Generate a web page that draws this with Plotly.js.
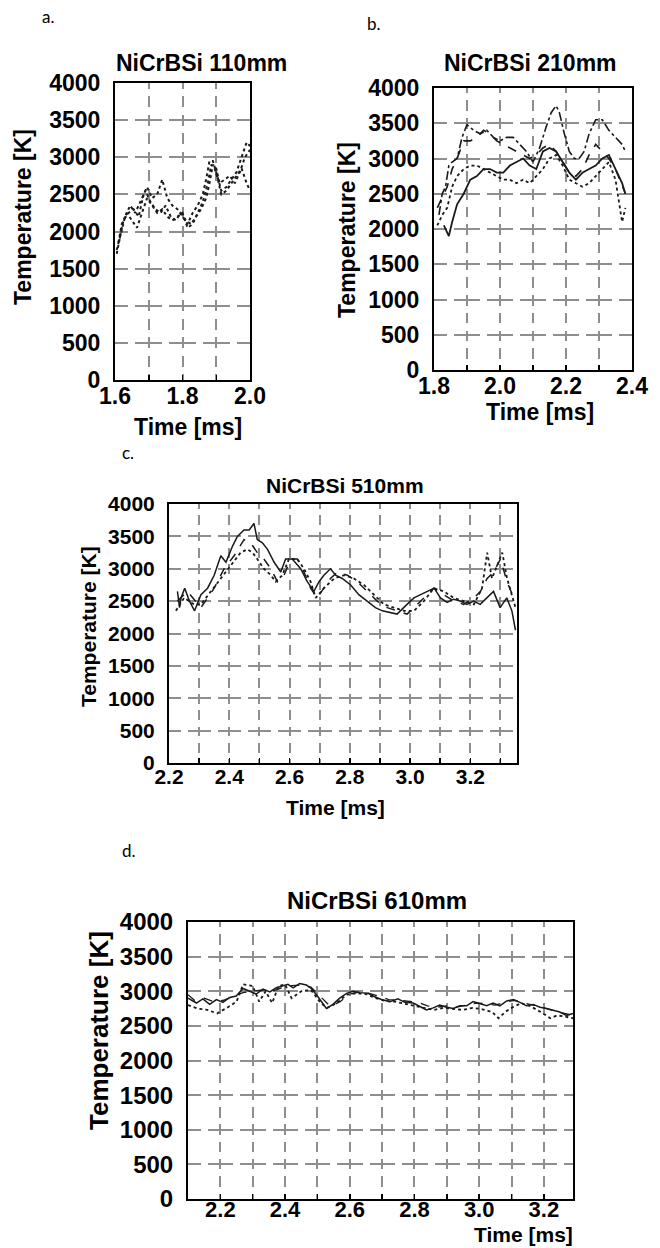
<!DOCTYPE html>
<html><head><meta charset="utf-8">
<script src="https://cdn.plot.ly/plotly-3.0.1.min.js"></script>
<style>html,body{margin:0;padding:0;background:#fff}#chart{width:660px;height:1248px}</style>
</head><body><div id="chart"></div>
<script>
// ---------------- DATA ----------------
const panelLetters = ['a.', 'b.', 'c.', 'd.'];
const panelTitles = ['NiCrBSi 110mm', 'NiCrBSi 210mm', 'NiCrBSi 510mm', 'NiCrBSi 610mm'];
const xTitle = 'Time [ms]';
const yTitle = 'Temperature [K]';

const yTickVals = [0, 500, 1000, 1500, 2000, 2500, 3000, 3500, 4000];
const yTickText = ['0', '500', '1000', '1500', '2000', '2500', '3000', '3500', '4000'];

const aTickVals = [1.6, 1.7, 1.8, 1.9, 2.0];
const aTickText = ['1.6', '', '1.8', '', '2.0'];
const bTickVals = [1.8, 1.9, 2.0, 2.1, 2.2, 2.3, 2.4];
const bTickText = ['1.8', '', '2.0', '', '2.2', '', '2.4'];
const cTickVals = [2.2, 2.3, 2.4, 2.5, 2.6, 2.7, 2.8, 2.9, 3.0, 3.1, 3.2, 3.3];
const cTickText = ['2.2', '', '2.4', '', '2.6', '', '2.8', '', '3.0', '', '3.2', ''];
const dTickVals = [2.1, 2.2, 2.3, 2.4, 2.5, 2.6, 2.7, 2.8, 2.9, 3.0, 3.1, 3.2];
const dTickText = ['', '2.2', '', '2.4', '', '2.6', '', '2.8', '', '3.0', '', '3.2'];

// Panel a (110 mm)
const a1Time = [1.605,1.615,1.625,1.64,1.655,1.67,1.685,1.695,1.71,1.725,1.74,1.755,1.77,1.785,1.80,1.815,1.83,1.845,1.86,1.87,1.88,1.89,1.90,1.915,1.93,1.945,1.96,1.975,1.99,2.0];
const a1Temp = [1700,1950,2150,2250,2300,2200,2500,2600,2450,2500,2700,2450,2350,2300,2200,2100,2250,2350,2500,2700,2950,2950,2800,2550,2600,2700,2800,3000,3200,3150];
const a2Time = [1.61,1.62,1.635,1.65,1.665,1.68,1.695,1.71,1.725,1.74,1.755,1.77,1.785,1.80,1.815,1.83,1.845,1.86,1.875,1.885,1.895,1.905,1.915,1.93,1.945,1.96,1.975,1.99,2.0];
const a2Temp = [1850,2100,2250,2150,2050,2250,2450,2350,2250,2300,2200,2150,2200,2250,2050,2100,2250,2400,2650,2900,2850,2700,2500,2550,2650,2750,2850,2650,2550];
const a3Time = [1.605,1.62,1.63,1.645,1.66,1.675,1.69,1.705,1.72,1.735,1.75,1.765,1.78,1.795,1.81,1.825,1.84,1.855,1.87,1.88,1.89,1.90,1.91,1.925,1.94,1.955,1.97,1.985,2.0];
const a3Temp = [1750,2000,2200,2350,2250,2400,2550,2400,2300,2250,2350,2200,2150,2250,2150,2100,2200,2300,2450,2650,2900,2850,2650,2700,2750,2650,2800,3000,3100];

// Panel b (210 mm)
const b1Time = [1.815,1.825,1.835,1.845,1.855,1.87,1.885,1.90,1.92,1.94,1.96,1.98,2.00,2.02,2.04,2.06,2.08,2.10,2.12,2.14,2.155,2.17,2.18,2.195,2.21,2.225,2.24,2.255,2.27,2.29,2.31,2.33,2.35,2.37,2.38];
const b1Temp = [2200,2500,2600,2900,2950,3000,3300,3480,3400,3350,3400,3300,3250,3300,3300,3200,3100,2950,3150,3450,3650,3750,3650,3350,3100,3000,3000,3100,3350,3550,3550,3400,3300,3200,3100];
const b2Time = [1.81,1.825,1.84,1.855,1.87,1.89,1.91,1.93,1.95,1.97,1.99,2.01,2.03,2.05,2.07,2.09,2.11,2.13,2.15,2.17,2.19,2.21,2.23,2.25,2.27,2.29,2.31,2.33,2.35,2.37,2.38];
const b2Temp = [2300,2450,2600,2850,3000,3250,3250,3300,3400,3350,3250,3200,3150,3100,3050,3000,3050,3150,3200,3100,2950,2800,2750,2850,3050,3200,3100,3000,2850,2600,2500];
const b3Time = [1.83,1.845,1.855,1.87,1.89,1.91,1.93,1.95,1.97,1.99,2.01,2.03,2.05,2.07,2.09,2.11,2.13,2.15,2.17,2.19,2.21,2.23,2.25,2.27,2.29,2.31,2.33,2.35,2.37,2.38];
const b3Temp = [2050,1900,2100,2350,2500,2700,2750,2850,2850,2800,2800,2900,2950,3000,2900,2850,3100,3150,3100,2950,2800,2700,2800,2850,2900,3000,3050,2850,2650,2500];
const b4Time = [1.81,1.825,1.84,1.855,1.87,1.89,1.91,1.93,1.95,1.97,1.99,2.01,2.03,2.05,2.07,2.09,2.11,2.13,2.15,2.17,2.19,2.21,2.23,2.25,2.27,2.29,2.31,2.33,2.35,2.36,2.37,2.38];
const b4Temp = [2050,2200,2300,2600,2750,2850,2900,2900,2850,2800,2750,2700,2700,2650,2700,2650,2750,2850,3000,3050,2900,2700,2650,2600,2650,2750,2850,2950,2700,2400,2100,2300];

// Panel c (510 mm)
const c1Time = [2.228,2.235,2.24,2.252,2.268,2.285,2.306,2.328,2.35,2.372,2.389,2.411,2.427,2.449,2.466,2.482,2.493,2.51,2.527,2.549,2.571,2.587,2.609,2.637,2.659,2.681,2.698,2.714,2.736,2.753,2.775,2.803,2.83,2.858,2.885,2.908,2.93,2.957,2.99,3.013,3.035,3.057,3.08,3.101,3.123,3.145,3.167,3.189,3.211,3.233,3.255,3.277,3.299,3.321,3.338,3.35];
const c1Temp = [2650,2400,2550,2700,2500,2350,2600,2700,2900,3200,3100,3350,3500,3600,3600,3700,3450,3400,3300,3100,2950,3150,3150,3000,2800,2650,2800,2900,3000,2900,2850,2750,2600,2500,2400,2350,2330,2300,2450,2550,2600,2650,2700,2550,2480,2530,2500,2450,2500,2450,2550,2650,2400,2550,2350,2050];
const c2Time = [2.228,2.261,2.306,2.35,2.383,2.416,2.449,2.471,2.493,2.515,2.538,2.56,2.582,2.604,2.626,2.648,2.67,2.692,2.714,2.736,2.759,2.792,2.825,2.858,2.891,2.924,2.957,2.99,3.024,3.057,3.079,3.112,3.145,3.178,3.212,3.234,3.256,3.278,3.30,3.322,3.344];
const c2Temp = [2500,2650,2400,2700,3000,3200,3450,3400,3250,3150,3000,2800,2900,3150,3150,2950,2700,2550,2700,2850,2950,2900,2800,2650,2500,2400,2350,2300,2450,2600,2700,2600,2500,2450,2550,2650,2850,2950,3150,2800,2550];
const c3Time = [2.223,2.25,2.283,2.306,2.339,2.372,2.405,2.438,2.46,2.477,2.493,2.515,2.538,2.554,2.576,2.598,2.626,2.648,2.67,2.687,2.714,2.748,2.781,2.814,2.847,2.88,2.913,2.946,2.98,3.013,3.046,3.079,3.112,3.145,3.178,3.212,3.239,3.256,3.272,3.289,3.306,3.322,3.35];
const c3Temp = [2350,2550,2450,2450,2650,2850,3050,3250,3300,3250,3150,3000,2900,2800,2900,3150,3150,3000,2800,2550,2700,2850,2900,2850,2750,2600,2450,2400,2350,2350,2500,2700,2650,2550,2500,2450,2700,3250,2850,3050,3250,2850,2400];

// Panel d (610 mm)
const d1Time = [2.1,2.126,2.146,2.167,2.188,2.208,2.229,2.249,2.27,2.291,2.311,2.332,2.353,2.373,2.394,2.409,2.425,2.445,2.466,2.481,2.497,2.512,2.528,2.548,2.569,2.59,2.61,2.631,2.657,2.677,2.698,2.724,2.749,2.77,2.796,2.817,2.837,2.858,2.878,2.899,2.92,2.94,2.961,2.981,3.002,3.023,3.043,3.064,3.085,3.105,3.126,3.146,3.167,3.188,3.208,3.229,3.249,3.27,3.29];
const d1Temp = [2900,2830,2890,2810,2880,2840,2910,2930,3040,3000,2960,3030,2990,3050,3080,3100,3050,3110,3090,3040,2950,2850,2750,2810,2900,2970,3000,2980,2970,2920,2880,2850,2890,2840,2830,2780,2730,2760,2800,2770,2750,2790,2790,2850,2820,2790,2830,2790,2860,2880,2840,2790,2810,2770,2750,2720,2700,2650,2680];
const d2Time = [2.1,2.13,2.16,2.19,2.22,2.25,2.27,2.30,2.32,2.34,2.36,2.38,2.40,2.42,2.45,2.48,2.51,2.53,2.56,2.59,2.62,2.65,2.68,2.71,2.74,2.77,2.80,2.83,2.86,2.89,2.92,2.95,2.98,3.01,3.04,3.06,3.08,3.10,3.13,3.16,3.19,3.22,3.24,3.26,3.29];
const d2Temp = [2800,2750,2730,2680,2760,2850,3100,3075,2850,3000,2830,3075,3100,2900,3000,3020,2830,2760,2830,2950,2970,2960,2900,2860,2850,2820,2800,2760,2730,2760,2740,2730,2760,2740,2700,2610,2700,2760,2830,2780,2700,2610,2650,2640,2610];
const d3Time = [2.1,2.12,2.15,2.18,2.21,2.24,2.27,2.30,2.33,2.36,2.39,2.42,2.45,2.48,2.50,2.52,2.54,2.57,2.60,2.63,2.66,2.69,2.72,2.75,2.78,2.81,2.84,2.87,2.90,2.93,2.96,2.99,3.02,3.05,3.08,3.11,3.14,3.17,3.20,3.23,3.26,3.29];
const d3Temp = [2950,2870,2900,2850,2870,2920,2980,3000,3020,3000,3050,3080,3090,3060,2970,2870,2780,2850,2960,2990,2970,2930,2880,2870,2850,2840,2790,2770,2790,2770,2800,2830,2820,2800,2840,2870,2830,2800,2760,2720,2690,2650];

// ---------------- LAYOUT / STYLE ----------------
const W = 660, H = 1248;
const FONT = 'Liberation Sans, Arial, Helvetica, sans-serif';
const px = x => x / W;
const py = y => 1 - y / H;

const panels = [
  {box: [115, 250, 83, 380], xr: [1.6, 2.0], tv: aTickVals, tt: aTickText, fs: 23, xfs: 23, xso: -6,
   series: [[a1Time, a1Temp, 'dot', 2], [a2Time, a2Temp, 'dot', 2], [a3Time, a3Temp, 'dot', 2]],
   title: [201, 63, 23], ytl: [23, 217, 23], xtl: [188, 427, 23, 'center'], letter: [40, 17]},
  {box: [434, 632, 88, 370], xr: [1.8, 2.4], tv: bTickVals, tt: bTickText, fs: 23, xfs: 23, xso: -6,
   series: [[b1Time, b1Temp, 'dashdot', 1.6], [b2Time, b2Temp, 'dash', 1.6], [b3Time, b3Temp, 'solid', 1.8], [b4Time, b4Temp, 'dot', 1.8]],
   title: [530, 63, 23], ytl: [347, 230, 23], xtl: [540, 412, 23, 'center'], letter: [365, 23]},
  {box: [169, 517, 504, 763], xr: [2.2, 3.355], tv: cTickVals, tt: cTickText, fs: 21, xfs: 21, xso: -6,
   series: [[c1Time, c1Temp, 'solid', 1.5], [c2Time, c2Temp, 'dash', 1.5], [c3Time, c3Temp, 'dot', 1.8]],
   title: [345, 485, 21], ytl: [88, 627, 21], xtl: [335, 807, 21, 'center'], letter: [120, 453]},
  {box: [188, 573, 922, 1199], xr: [2.1, 3.29], tv: dTickVals, tt: dTickText, fs: 24, xfs: 22, xso: -10,
   series: [[d1Time, d1Temp, 'solid', 1.5], [d2Time, d2Temp, 'dot', 1.8], [d3Time, d3Temp, 'dash', 1.3]],
   title: [377, 900, 24], ytl: [99, 1031, 26], xtl: [575, 1234.5, 21, 'right'], letter: [120, 850]}
];

const r1 = v => Math.round(v * 10) / 10;
function hDash(P) { // horizontal grid lines: long dashes through crossings, gap mid-way
  const g = 7, h = (P - g) / 2;
  return `${r1(h)}px,${g}px,${r1(h)}px,0px`;
}
function vDash(P) { // vertical grid lines: short crossing arms plus one middle dash
  const c = P * 0.15, g = P * 0.2, d = P * 0.3;
  return `${r1(c)}px,${r1(g)}px,${r1(d)}px,${r1(g)}px,${r1(c)}px,0px`;
}

const traces = [];
const layout = {
  width: W, height: H, margin: {l: 0, r: 0, t: 0, b: 0},
  paper_bgcolor: '#ffffff', plot_bgcolor: '#ffffff', showlegend: false,
  annotations: []
};

panels.forEach((p, i) => {
  const n = i + 1;
  const xk = n === 1 ? 'xaxis' : 'xaxis' + n;
  const yk = n === 1 ? 'yaxis' : 'yaxis' + n;
  const xr = 'x' + (n === 1 ? '' : n), yr = 'y' + (n === 1 ? '' : n);
  const [L, R, T, B] = p.box;
  const Px = (R - L) * (p.tv[1] - p.tv[0]) / (p.xr[1] - p.xr[0]);
  const Py = (B - T) / 8;
  layout[xk] = {
    domain: [px(L), px(R)], range: p.xr, anchor: yr,
    tickmode: 'array', tickvals: p.tv, ticktext: p.tt,
    ticks: 'inside', ticklen: 5, tickwidth: 1.5, tickcolor: '#000',
    showgrid: true, gridcolor: '#8e8e8e', gridwidth: 2, griddash: vDash(Py),
    showline: true, mirror: true, linecolor: '#000', linewidth: 2,
    zeroline: false, ticklabelstandoff: p.xso,
    tickfont: {family: FONT, size: p.xfs, color: '#000', weight: 700}
  };
  layout[yk] = {
    domain: [py(B), py(T)], range: [0, 4000], anchor: xr,
    tickmode: 'array', tickvals: yTickVals, ticktext: yTickText,
    ticks: '', showgrid: true, gridcolor: '#8e8e8e', gridwidth: 2, griddash: hDash(Px),
    showline: true, mirror: true, linecolor: '#000', linewidth: 2,
    zeroline: false, ticklabelstandoff: 8,
    tickfont: {family: FONT, size: p.fs, color: '#000', weight: 700}
  };
  p.series.forEach(s => {
    traces.push({
      x: s[0], y: s[1], xaxis: xr, yaxis: yr, type: 'scatter', mode: 'lines',
      line: {color: '#1a1a1a', width: s[3], dash: s[2]}, hoverinfo: 'skip'
    });
  });
  layout.annotations.push({text: panelTitles[i], xref: 'paper', yref: 'paper',
    x: px(p.title[0]), y: py(p.title[1]), xanchor: 'center', yanchor: 'middle', showarrow: false,
    font: {family: FONT, size: p.title[2], color: '#000', weight: 700}});
  layout.annotations.push({text: yTitle, xref: 'paper', yref: 'paper', textangle: -90,
    x: px(p.ytl[0]), y: py(p.ytl[1]), xanchor: 'center', yanchor: 'middle', showarrow: false,
    font: {family: FONT, size: p.ytl[2], color: '#000', weight: 700}});
  layout.annotations.push({text: xTitle, xref: 'paper', yref: 'paper',
    x: px(p.xtl[0]), y: py(p.xtl[1]), xanchor: p.xtl[3], yanchor: 'middle', showarrow: false,
    font: {family: FONT, size: p.xtl[2], color: '#000', weight: 700}});
  layout.annotations.push({text: panelLetters[i], xref: 'paper', yref: 'paper',
    x: px(p.letter[0]), y: py(p.letter[1]), xanchor: 'left', yanchor: 'middle', showarrow: false,
    font: {family: 'Lato, Open Sans, sans-serif', size: 17, color: '#000'}});
});

Plotly.newPlot('chart', traces, layout, {staticPlot: true, displayModeBar: false});
</script>
</body></html>
